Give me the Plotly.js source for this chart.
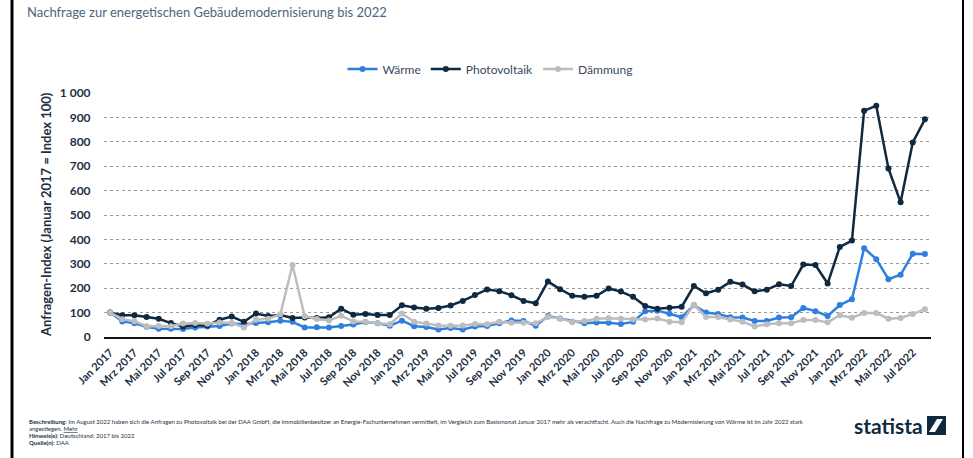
<!DOCTYPE html>
<html>
<head>
<meta charset="utf-8">
<script src="https://cdn.plot.ly/plotly-3.0.1.min.js"></script>
<style>
html,body{margin:0;padding:0;background:#fff;}
#chart{width:973px;height:458px;}
</style>
</head>
<body>
<div id="chart"></div>
<script>
// ---- data ----
const monthNames = ["Jan","Feb","Mrz","Apr","Mai","Jun","Jul","Aug","Sep","Okt","Nov","Dez"];
const years = [2017, 2018, 2019, 2020, 2021, 2022];
const categories = [];
years.forEach(y => monthNames.forEach((m, i) => { if (y < 2022 || i < 8) categories.push(m + " " + y); }));

const waerme = [100,64,56,42,34,34,33,39,43,45,55,52,57,60,67,62,39,40,39,45,51,61,56,46,67,44,41,31,37,31,43,45,56,68,66,46,86,76,63,56,59,58,53,62,106,108,95,81,130,100,94,81,80,66,66,80,81,119,106,86,131,155,364,319,237,255,341,340];
const photovoltaik = [100,89,89,82,75,57,43,49,47,71,84,62,96,86,90,78,80,78,81,116,91,94,90,90,130,121,116,119,129,148,172,195,188,171,148,138,227,196,169,165,169,199,186,165,127,116,120,124,209,179,194,226,215,187,194,216,209,297,295,219,369,395,927,948,691,552,797,892];
const daemmung = [100,73,65,44,45,44,55,57,54,59,57,39,71,75,93,295,85,74,68,87,64,62,56,52,96,62,55,47,46,47,53,52,62,58,58,56,82,76,62,66,75,77,75,72,72,76,63,60,132,82,82,72,63,43,52,56,56,70,70,60,89,79,98,98,75,78,94,114];

const seriesNames = ["Wärme", "Photovoltaik", "Dämmung"];
const yTicks = [0,100,200,300,400,500,600,700,800,900,1000];
const xTickLabels = categories.filter((c, i) => i % 2 === 0);

// ---- styling ----
const colors = ["#2f7fe0", "#0f2a40", "#bdbdbd"];
const fontFam = "Lato, 'Open Sans', sans-serif";
const dark = "#1d2f44";

const L = 104, R = 931, T = 93, B = 337;
const px = x => (x - L) / (R - L);
const py = y => (B - y) / (B - T);

const traces = [waerme, photovoltaik, daemmung].map((vals, k) => ({
  type: "scatter",
  mode: "lines+markers",
  name: seriesNames[k],
  x: categories,
  y: vals,
  line: {color: colors[k], width: 2.5},
  marker: {color: colors[k], size: 6},
  hoverinfo: "skip"
}));

const footer = [
  {y: 421, html: "<b>Beschreibung:</b> Im August 2022 haben sich die Anfragen zu Photovoltaik bei der DAA GmbH, die Immobilienbesitzer an Energie-Fachunternehmen vermittelt, im Vergleich zum Basismonat Januar 2017 mehr als verachtfacht. Auch die Nachfrage zu Modernisierung von Wärme ist im Jahr 2022 stark"},
  {y: 428, html: "angestiegen. <u>Mehr</u>"},
  {y: 435, html: "<b>Hinweis(e):</b> Deutschland; 2017 bis 2022"},
  {y: 442, html: "<b>Quelle(n):</b> DAA"}
];

const annotations = [
  {xref: "paper", yref: "paper", x: px(46), y: py(215), text: "<b>Anfragen-Index (Januar 2017 = Index 100)</b>",
   textangle: -90, showarrow: false, xanchor: "center", yanchor: "middle",
   font: {family: fontFam, size: 13, color: dark}},
  {xref: "paper", yref: "paper", x: px(852), y: py(425), text: "<b>statista</b>", showarrow: false,
   xanchor: "left", yanchor: "middle", font: {family: fontFam, size: 21, color: "#0f2a40"}}
].concat(footer.map(f => ({
  xref: "paper", yref: "paper", x: px(27), y: py(f.y), text: f.html, showarrow: false,
  xanchor: "left", yanchor: "middle", align: "left",
  font: {family: fontFam, size: 6, color: "#1d2f44"}
})));

const shapes = [
  {type: "line", xref: "paper", yref: "paper", x0: px(12), x1: px(12), y0: py(0), y1: py(458), line: {color: "#000", width: 3}},
  {type: "line", xref: "paper", yref: "paper", x0: px(963), x1: px(963), y0: py(0), y1: py(458), line: {color: "#000", width: 2}},
  {type: "rect", xref: "paper", yref: "paper", x0: px(927), x1: px(946), y0: py(416), y1: py(435), fillcolor: "#0f2a40", line: {width: 0}},
  {type: "path", xref: "paper", yref: "paper",
   path: `M ${px(929)} ${py(432)} L ${px(935)} ${py(432)} L ${px(943)} ${py(419)} L ${px(937)} ${py(419)} Z`,
   fillcolor: "#ffffff", line: {width: 0}}
];

const layout = {
  width: 973, height: 458,
  margin: {l: L, r: 973 - R, t: T, b: 458 - B},
  paper_bgcolor: "#ffffff", plot_bgcolor: "#ffffff",
  font: {family: fontFam, color: dark},
  separators: ", ",
  title: {text: "Nachfrage zur energetischen Gebäudemodernisierung bis 2022",
          xref: "container", yref: "container", x: 27/973, xanchor: "left", y: 1 - 12/458, yanchor: "middle",
          font: {family: fontFam, size: 13, color: "#4d6580"}},
  showlegend: true,
  legend: {orientation: "h", x: px(490), xanchor: "center", y: py(69), yanchor: "middle",
           font: {family: fontFam, size: 12, color: "#3a4a5e"}, itemwidth: 30, tracegroupgap: 0},
  xaxis: {type: "category", range: [-0.5, categories.length - 0.5],
          tickmode: "array", tickvals: xTickLabels, ticktext: xTickLabels.map(t => "<b>" + t + "</b>"),
          tickangle: -45, ticks: "outside", ticklen: 3, tickcolor: "rgba(0,0,0,0)",
          tickfont: {family: fontFam, size: 11, color: dark},
          showgrid: false, showline: true, linecolor: "#111", linewidth: 2, zeroline: false, fixedrange: true},
  yaxis: {range: [0, 1000], tickmode: "array", tickvals: yTicks,
          ticktext: yTicks.map(v => "<b>" + (v >= 1000 ? (Math.floor(v/1000) + " " + String(v%1000).padStart(3,"0")) : v) + "</b>"),
          ticks: "outside", ticklen: 10, tickcolor: "rgba(0,0,0,0)",
          tickfont: {family: fontFam, size: 12, color: dark},
          showgrid: true, gridcolor: "#9a9a9a", griddash: "dot", gridwidth: 1,
          zeroline: false, showline: false, fixedrange: true},
  annotations: annotations,
  shapes: shapes
};

Plotly.newPlot("chart", traces, layout, {displayModeBar: false, staticPlot: true});
</script>
</body>
</html>
